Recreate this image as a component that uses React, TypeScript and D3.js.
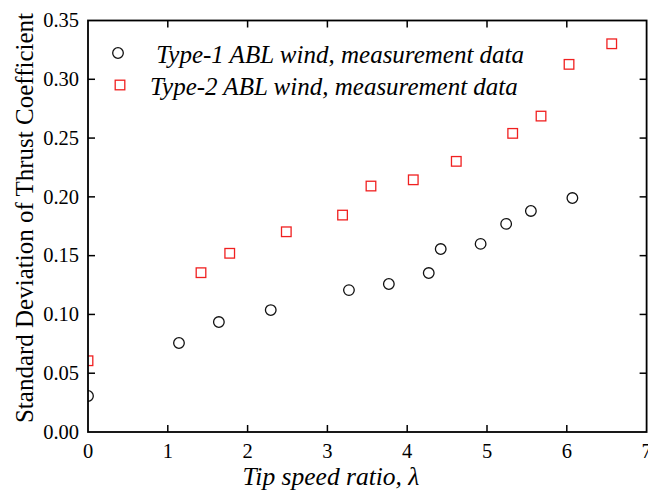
import React from "react";
import * as d3 from "d3";

const type1X = [0, 1.14, 1.64, 2.29, 3.27, 3.77, 4.27, 4.42, 4.92, 5.24, 5.55, 6.07];
const type1Y = [0.0306, 0.0757, 0.0935, 0.1037, 0.1207, 0.1259, 0.1352, 0.1556, 0.16, 0.177, 0.188, 0.199];
const type2X = [0, 1.416, 1.776, 2.485, 3.19, 3.546, 4.076, 4.615, 5.322, 5.677, 6.028, 6.563];
const type2Y = [0.0606, 0.1355, 0.152, 0.1703, 0.1845, 0.2092, 0.2145, 0.2302, 0.254, 0.2687, 0.3127, 0.3302];
const xTicks = [0, 1, 2, 3, 4, 5, 6, 7];
const yTicks = [0, 0.05, 0.1, 0.15, 0.2, 0.25, 0.3, 0.35];
const legendLabels = [" Type-1 ABL wind, measurement data", "Type-2 ABL wind, measurement data"];

const W = 648, H = 494;
const L = 88, R = 646.6, T = 20.5, B = 432;
const font = "Liberation Serif";

export default function App() {
  const x = d3.scaleLinear().domain([0, 7]).range([L, R]);
  const y = d3.scaleLinear().domain([0, 0.35]).range([B, T]);
  const tl = 7;
  const ts = { fontFamily: font } as React.CSSProperties;
  return (
    <svg width={W} height={H} style={{ position: "absolute", left: 0, top: 0, background: "#fff" }}>
      <defs>
        <clipPath id="plot">
          <rect x={L} y={T} width={R - L} height={B - T} />
        </clipPath>
      </defs>
      <g clipPath="url(#plot)">
        {type1X.map((v, i) => (
          <circle key={"c" + i} cx={x(v)} cy={y(type1Y[i])} r={5.3} fill="none" stroke="#111" strokeWidth={1.3} />
        ))}
        {type2X.map((v, i) => (
          <rect key={"s" + i} x={x(v) - 4.8} y={y(type2Y[i]) - 4.8} width={9.6} height={9.6} fill="none" stroke="#f02020" strokeWidth={1.3} />
        ))}
      </g>
      <rect x={L} y={T} width={R - L} height={B - T} fill="none" stroke="#000" strokeWidth={1.8} />
      {xTicks.slice(1, -1).map((t) => (
        <g key={"xt" + t}>
          <line x1={x(t)} x2={x(t)} y1={B} y2={B - tl} stroke="#000" strokeWidth={1.5} />
          <line x1={x(t)} x2={x(t)} y1={T} y2={T + tl} stroke="#000" strokeWidth={1.5} />
        </g>
      ))}
      {yTicks.slice(1, -1).map((t) => (
        <g key={"yt" + t}>
          <line x1={L} x2={L + tl} y1={y(t)} y2={y(t)} stroke="#000" strokeWidth={1.5} />
          <line x1={R} x2={R - tl} y1={y(t)} y2={y(t)} stroke="#000" strokeWidth={1.5} />
        </g>
      ))}
      {xTicks.map((t) => (
        <text key={"xl" + t} x={x(t)} y={457.5} textAnchor="middle" style={ts} fontSize={20.5}>
          {t}
        </text>
      ))}
      {yTicks.map((t) => (
        <text key={"yl" + t} x={79} y={y(t) + 6.8} textAnchor="end" style={ts} fontSize={20.5}>
          {t.toFixed(2)}
        </text>
      ))}
      <text x={331} y={485} textAnchor="middle" style={ts} fontSize={25.5} fontStyle="italic">
        Tip speed ratio, λ
      </text>
      <text transform={`translate(33,218) rotate(-90)`} textAnchor="middle" style={ts} fontSize={25}>
        Standard Deviation of Thrust Coefficient
      </text>
      <circle cx={118} cy={53} r={5.3} fill="none" stroke="#111" strokeWidth={1.3} />
      <rect x={115.2} y={80.2} width={9.6} height={9.6} fill="none" stroke="#f02020" strokeWidth={1.3} />
      <text x={150} y={63} style={{ ...ts, whiteSpace: "pre" }} fontSize={25} fontStyle="italic">
        {legendLabels[0]}
      </text>
      <text x={150} y={95} style={{ ...ts, whiteSpace: "pre" }} fontSize={25} fontStyle="italic">
        {legendLabels[1]}
      </text>
    </svg>
  );
}
